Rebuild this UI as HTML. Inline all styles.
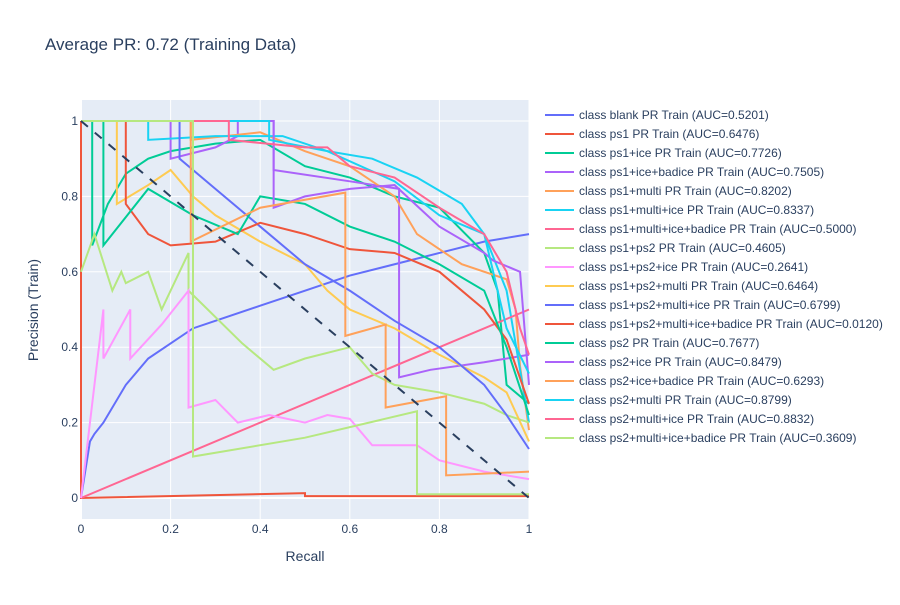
<!DOCTYPE html>
<html><head><meta charset="utf-8"><style>
body{margin:0;background:#fff;font-family:"Liberation Sans",Arial,sans-serif}
svg text{font-family:"Liberation Sans",Arial,sans-serif;fill:#2a3f5f}
</style></head><body>
<svg id="chart" width="900" height="600" xmlns="http://www.w3.org/2000/svg">
<rect width="900" height="600" fill="#fff"/>
<text x="45" y="50" font-size="17">Average PR: 0.72 (Training Data)</text>
<rect x="81" y="100" width="448" height="419" fill="#e5ecf6"/>
<g id="grid"></g><g id="series"></g><g id="legend"></g>
<text x="305" y="561" font-size="14" text-anchor="middle">Recall</text>
<text x="38" y="310" font-size="14" text-anchor="middle" transform="rotate(-90 38 310)">Precision (Train)</text>
</svg>
<script>
const xTicks=[0,0.2,0.4,0.6,0.8,1];
const yTicks=[0,0.2,0.4,0.6,0.8,1];
const names=["class blank PR Train (AUC=0.5201)","class ps1 PR Train (AUC=0.6476)","class ps1+ice PR Train (AUC=0.7726)","class ps1+ice+badice PR Train (AUC=0.7505)","class ps1+multi PR Train (AUC=0.8202)","class ps1+multi+ice PR Train (AUC=0.8337)","class ps1+multi+ice+badice PR Train (AUC=0.5000)","class ps1+ps2 PR Train (AUC=0.4605)","class ps1+ps2+ice PR Train (AUC=0.2641)","class ps1+ps2+multi PR Train (AUC=0.6464)","class ps1+ps2+multi+ice PR Train (AUC=0.6799)","class ps1+ps2+multi+ice+badice PR Train (AUC=0.0120)","class ps2 PR Train (AUC=0.7677)","class ps2+ice PR Train (AUC=0.8479)","class ps2+ice+badice PR Train (AUC=0.6293)","class ps2+multi PR Train (AUC=0.8799)","class ps2+multi+ice PR Train (AUC=0.8832)","class ps2+multi+ice+badice PR Train (AUC=0.3609)"];
const colors=["#636efa","#EF553B","#00cc96","#ab63fa","#FFA15A","#19d3f3","#FF6692","#B6E880","#FF97FF","#FECB52"];
const rec0=[0,0.02,0.03,0.05,0.1,0.15,0.2,0.25,0.3,0.4,0.5,0.6,0.7,0.8,0.9,1];
const pre0=[0,0.15,0.17,0.2,0.3,0.37,0.41,0.45,0.47,0.51,0.55,0.59,0.62,0.65,0.68,0.70];
const rec1=[0,0,0.5,0.5,1];
const pre1=[1,0,0.013,0.005,0.005];
const rec2=[0,0.025,0.025,0.06,0.1,0.15,0.2,0.3,0.4,0.5,0.6,0.7,0.8,0.9,0.93,0.95,1];
const pre2=[1,1,0.67,0.78,0.86,0.9,0.92,0.94,0.95,0.88,0.85,0.8,0.77,0.65,0.55,0.3,0.25];
const rec3=[0,0.2,0.2,0.3,0.35,0.35,0.43,0.43,0.6,0.71,0.71,0.78,0.9,1];
const pre3=[1,1,0.9,0.93,0.96,1,1,0.87,0.84,0.82,0.32,0.34,0.36,0.38];
const rec4=[0,0.245,0.245,0.4,0.5,0.6,0.7,0.75,0.85,0.95,0.97,0.98,1];
const pre4=[1,1,0.95,0.97,0.92,0.88,0.8,0.7,0.62,0.58,0.5,0.35,0.18];
const rec5=[0,0.15,0.15,0.3,0.45,0.55,0.65,0.75,0.85,0.9,0.95,1];
const pre5=[1,1,0.95,0.96,0.96,0.92,0.9,0.85,0.78,0.7,0.55,0.2];
const rec6=[0,1];
const pre6=[0,0.5];
const rec7=[0,0.03,0.07,0.09,0.1,0.15,0.18,0.24,0.24,0.36,0.43,0.5,0.6,0.65,0.7,0.8,0.9,0.95,1];
const pre7=[0.6,0.7,0.55,0.6,0.57,0.6,0.5,0.65,0.55,0.41,0.34,0.37,0.4,0.33,0.3,0.28,0.25,0.22,0.2];
const rec8=[0,0.05,0.05,0.11,0.11,0.18,0.24,0.24,0.3,0.35,0.42,0.5,0.55,0.6,0.65,0.75,0.8,0.9,1];
const pre8=[0,0.5,0.37,0.5,0.37,0.46,0.55,0.24,0.26,0.2,0.22,0.2,0.22,0.21,0.14,0.14,0.1,0.07,0.05];
const rec9=[0,0.08,0.08,0.15,0.2,0.25,0.3,0.4,0.5,0.55,0.6,0.7,0.8,0.9,0.95,1];
const pre9=[1,1,0.78,0.83,0.87,0.8,0.75,0.68,0.62,0.55,0.5,0.45,0.38,0.32,0.28,0.15];
const rec10=[0,0.22,0.22,0.3,0.4,0.5,0.6,0.7,0.8,0.9,0.95,1];
const pre10=[1,1,0.9,0.82,0.72,0.62,0.55,0.47,0.4,0.3,0.22,0.13];
const rec11=[0,0.1,0.1,0.15,0.2,0.3,0.4,0.5,0.6,0.7,0.8,0.9,0.95,1];
const pre11=[1,1,0.78,0.7,0.67,0.68,0.73,0.7,0.66,0.65,0.6,0.5,0.42,0.25];
const rec12=[0,0.05,0.05,0.15,0.25,0.35,0.4,0.5,0.6,0.7,0.8,0.9,0.95,1];
const pre12=[1,1,0.67,0.82,0.75,0.7,0.8,0.78,0.72,0.68,0.62,0.55,0.4,0.22];
const rec13=[0,0.43,0.43,0.5,0.6,0.7,0.8,0.9,0.92,0.98,1];
const pre13=[1,1,0.77,0.8,0.82,0.83,0.72,0.65,0.63,0.6,0.3];
const rec14=[0,0.245,0.245,0.4,0.59,0.59,0.68,0.68,0.815,0.815,1];
const pre14=[1,1,0.68,0.77,0.81,0.43,0.46,0.24,0.27,0.06,0.07];
const rec15=[0,0.42,0.42,0.55,0.7,0.8,0.9,0.95,1];
const pre15=[1,1,0.95,0.92,0.84,0.75,0.7,0.45,0.33];
const rec16=[0,0.33,0.33,0.5,0.55,0.6,0.7,0.8,0.9,0.95,0.98,1];
const pre16=[1,1,0.95,0.93,0.93,0.88,0.85,0.77,0.7,0.6,0.45,0.38];
const rec17=[0,0.25,0.25,0.5,0.75,0.75,1];
const pre17=[1,1,0.11,0.16,0.23,0.01,0.01];
const recs=[rec0,rec1,rec2,rec3,rec4,rec5,rec6,rec7,rec8,rec9,rec10,rec11,rec12,rec13,rec14,rec15,rec16,rec17];
const pres=[pre0,pre1,pre2,pre3,pre4,pre5,pre6,pre7,pre8,pre9,pre10,pre11,pre12,pre13,pre14,pre15,pre16,pre17];
const NS="http://www.w3.org/2000/svg";
const X=v=>81+v*448, Y=v=>498-v*377;
const grid=document.getElementById('grid');
xTicks.forEach(t=>{
 const l=document.createElementNS(NS,'line');
 
 
 l.setAttribute('x1',X(t));l.setAttribute('x2',X(t));l.setAttribute('y1',100);l.setAttribute('y2',519);
 l.setAttribute('stroke','#fff');l.setAttribute('stroke-width',t==0?2:1);grid.appendChild(l);
 const tx=document.createElementNS(NS,'text');
 
 
 tx.setAttribute('x',X(t));tx.setAttribute('y',533);tx.setAttribute('font-size','12');tx.setAttribute('text-anchor','middle');
 tx.textContent=String(t);grid.appendChild(tx);
});
yTicks.forEach(t=>{
 const l=document.createElementNS(NS,'line');
 
 
 l.setAttribute('x1',81);l.setAttribute('x2',529);l.setAttribute('y1',Y(t));l.setAttribute('y2',Y(t));
 l.setAttribute('stroke','#fff');l.setAttribute('stroke-width',t==0?2:1);grid.appendChild(l);
 const tx=document.createElementNS(NS,'text');
 
 
 tx.setAttribute('x',78);tx.setAttribute('y',Y(t)+4);tx.setAttribute('font-size','12');tx.setAttribute('text-anchor','end');
 tx.textContent=String(t);grid.appendChild(tx);
});
const sg=document.getElementById('series');
const lg=document.getElementById('legend');
recs.forEach((r,i)=>{
 const p=document.createElementNS(NS,'polyline');
 
 
 p.setAttribute('points',r.map((v,j)=>X(v)+','+Y(pres[i][j])).join(' '));
 p.setAttribute('fill','none');p.setAttribute('stroke',colors[i%10]);p.setAttribute('stroke-width','2');
 sg.appendChild(p);
 const ly=115+i*19;
 const g=document.createElementNS(NS,'g');
 
 
 const ll=document.createElementNS(NS,'line');
 ll.setAttribute('x1',545);ll.setAttribute('x2',574);ll.setAttribute('y1',ly);ll.setAttribute('y2',ly);
 ll.setAttribute('stroke',colors[i%10]);ll.setAttribute('stroke-width','2');
 const lt=document.createElementNS(NS,'text');
 lt.setAttribute('x',579);lt.setAttribute('y',ly+4);lt.setAttribute('font-size','12');
 lt.textContent=names[i];
 g.appendChild(ll);g.appendChild(lt);lg.appendChild(g);
});
const d=document.createElementNS(NS,'line');


d.setAttribute('x1',X(0));d.setAttribute('y1',Y(1));d.setAttribute('x2',X(1));d.setAttribute('y2',Y(0));
d.setAttribute('stroke','#2a3f5f');d.setAttribute('stroke-width','2');d.setAttribute('stroke-dasharray','9,9');
sg.appendChild(d);
</script>
</body></html>
